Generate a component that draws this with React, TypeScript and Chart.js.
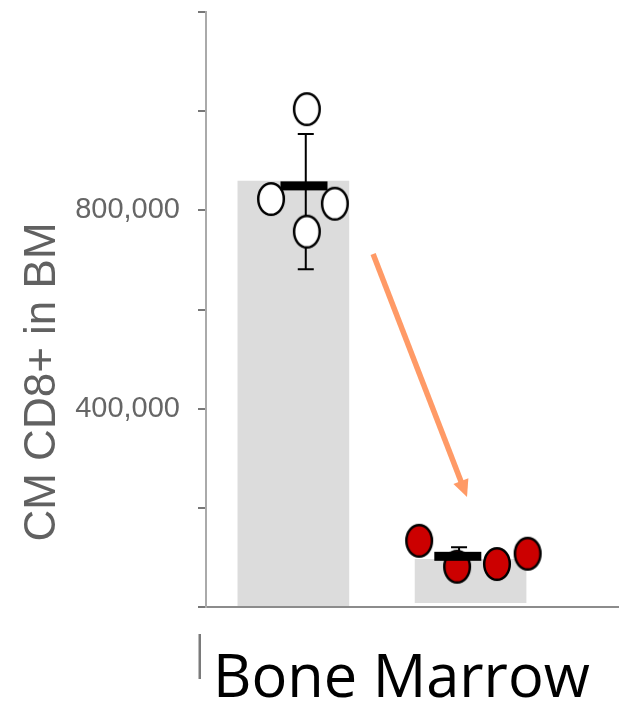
import React, { useEffect, useRef } from 'react';
import { Chart, registerables } from 'chart.js';

Chart.register(...registerables);

// ---- data ----
const categoryLabel = 'Bone Marrow';
const yAxisTitle = 'CM CD8+ in BM';
const groupPositions = [1, 2];
const barLow = [2500, 8500];
const barHigh = [859000, 96200];
const groupAValues = [1004000, 822800, 813400, 757000];
const groupAOffsets = [0.076, -0.126, 0.234, 0.076];
const groupBValues = [133500, 81300, 86700, 107500];
const groupBOffsets = [-0.29, -0.076, 0.149, 0.322];
const meanValues = [849300, 102200];
const meanOffsets = [0.06, -0.072];
const errTop = [954000, 120400];
const errBottom = [681000, 84000];
const errOffsets = [0.07, -0.065];
const yTickLabelled = [400000, 800000];
const arrowFrom = { x: 1.45, y: 711900 };
const arrowTo = { x: 1.98, y: 221800 };

function ellipseImage(fill: string): HTMLCanvasElement {
  const c = document.createElement('canvas');
  c.width = 30;
  c.height = 36;
  const ctx = c.getContext('2d')!;
  ctx.beginPath();
  ctx.ellipse(15, 18, 12.8, 15.8, 0, 0, Math.PI * 2);
  ctx.fillStyle = fill;
  ctx.fill();
  ctx.lineWidth = 2.5;
  ctx.strokeStyle = '#000';
  ctx.stroke();
  return c;
}

const overlayPlugin = {
  id: 'overlay',
  afterDatasetDraw(chart: any, args: any) {
    if (args.index !== 0) return;
    const { ctx, scales } = chart;
    const x = scales.x;
    const y = scales.y;
    ctx.save();
    ctx.strokeStyle = '#000';
    ctx.lineWidth = 2;
    groupPositions.forEach((g, i) => {
      const px = x.getPixelForValue(g + errOffsets[i]);
      const t = y.getPixelForValue(errTop[i]);
      const b = y.getPixelForValue(errBottom[i]);
      ctx.beginPath();
      ctx.moveTo(px, t);
      ctx.lineTo(px, b);
      ctx.moveTo(px - 8, t);
      ctx.lineTo(px + 8, t);
      ctx.moveTo(px - 8, b);
      ctx.lineTo(px + 8, b);
      ctx.stroke();
    });
    ctx.restore();
  },
  afterDatasetsDraw(chart: any) {
    const { ctx, scales } = chart;
    const x = scales.x;
    const y = scales.y;
    ctx.save();
    // mean lines
    ctx.fillStyle = '#000';
    groupPositions.forEach((g, i) => {
      const px = x.getPixelForValue(g + meanOffsets[i]);
      const py = y.getPixelForValue(meanValues[i]);
      ctx.fillRect(px - 23.5, py - 4.5, 47, 9);
    });
    // arrow
    const x0 = x.getPixelForValue(arrowFrom.x);
    const y0 = y.getPixelForValue(arrowFrom.y);
    const x1 = x.getPixelForValue(arrowTo.x);
    const y1 = y.getPixelForValue(arrowTo.y);
    const ang = Math.atan2(y1 - y0, x1 - x0);
    const headLen = 17;
    const headHalf = 8;
    const color = '#FF9A66';
    ctx.strokeStyle = color;
    ctx.fillStyle = color;
    ctx.lineWidth = 5.5;
    ctx.beginPath();
    ctx.moveTo(x0, y0);
    ctx.lineTo(x1 - Math.cos(ang) * (headLen - 2), y1 - Math.sin(ang) * (headLen - 2));
    ctx.stroke();
    const bx = x1 - Math.cos(ang) * headLen;
    const by = y1 - Math.sin(ang) * headLen;
    ctx.beginPath();
    ctx.moveTo(x1, y1);
    ctx.lineTo(bx + Math.sin(ang) * headHalf, by - Math.cos(ang) * headHalf);
    ctx.lineTo(bx - Math.sin(ang) * headHalf, by + Math.cos(ang) * headHalf);
    ctx.closePath();
    ctx.fill();
    ctx.restore();
  },
  afterDraw(chart: any) {
    const { ctx, chartArea } = chart;
    ctx.save();
    // y axis title
    ctx.fillStyle = '#616161';
    ctx.font = '44px "Liberation Sans", Arial, sans-serif';
    ctx.textAlign = 'center';
    ctx.textBaseline = 'alphabetic';
    ctx.translate(55, 382);
    ctx.rotate(-Math.PI / 2);
    ctx.fillText(yAxisTitle, 0, 0);
    ctx.restore();

    ctx.save();
    // small grey marker under axis
    ctx.fillStyle = '#7a7a7a';
    ctx.fillRect(chartArea.left - 7.5, chartArea.bottom + 27, 2.5, 45);
    // category label
    ctx.font = '100px "Open Sans", sans-serif';
    const w = ctx.measureText(categoryLabel).width;
    const size = (100 * 377) / w;
    ctx.font = `${size}px "Open Sans", sans-serif`;
    ctx.fillStyle = '#000';
    ctx.textAlign = 'left';
    ctx.textBaseline = 'alphabetic';
    ctx.fillText(categoryLabel, chartArea.left + 7, chartArea.bottom + 90);
    ctx.restore();
  },
};

export default function App() {
  const ref = useRef<HTMLCanvasElement>(null);
  useEffect(() => {
    if (!ref.current) return;
    const whiteImg = ellipseImage('#ffffff');
    const redImg = ellipseImage('#CC0000');
    const chart = new Chart(ref.current, {
      type: 'bar',
      data: {
        datasets: [
          {
            type: 'bar',
            label: 'bars',
            data: groupPositions.map((g, i) => ({ x: g, y: [barLow[i], barHigh[i]] })) as any,
            backgroundColor: '#DCDCDC',
            borderWidth: 0,
            barThickness: 111,
            order: 3,
          } as any,
          {
            type: 'scatter',
            label: 'A',
            data: groupAValues.map((v, i) => ({ x: groupPositions[0] + groupAOffsets[i], y: v })),
            pointStyle: whiteImg as any,
            order: 1,
          } as any,
          {
            type: 'scatter',
            label: 'B',
            data: groupBValues.map((v, i) => ({ x: groupPositions[1] + groupBOffsets[i], y: v })),
            pointStyle: redImg as any,
            order: 1,
          } as any,
        ],
      },
      options: {
        responsive: false,
        animation: false,
        layout: { padding: { top: 12, right: 11, left: 0, bottom: 0 } },
        plugins: { legend: { display: false }, tooltip: { enabled: false } },
        scales: {
          x: {
            type: 'linear',
            min: 0.507,
            max: 2.832,
            offset: false,
            ticks: { display: false },
            grid: { display: false },
            border: { color: '#8c8c8c', width: 2 },
            afterFit: (s: any) => {
              s.height = 102;
              s.paddingLeft = 0;
              s.paddingRight = 0;
            },
          },
          y: {
            min: 0,
            max: 1200000,
            ticks: {
              stepSize: 200000,
              padding: 18,
              color: '#666666',
              font: { family: '"Liberation Sans", Arial, sans-serif', size: 29 },
              callback: (v: any) => (yTickLabelled.includes(Number(v)) ? Number(v).toLocaleString('en-US') : ''),
            },
            grid: { drawOnChartArea: false, tickLength: 8, color: '#777777', lineWidth: 2 },
            border: { color: '#AAAAAA', width: 2 },
            afterFit: (s: any) => {
              s.width = 206;
              s.paddingTop = 0;
              s.paddingBottom = 0;
            },
          },
        },
      } as any,
      plugins: [overlayPlugin],
    });
    return () => chart.destroy();
  }, []);
  return (
    <div style={{ position: 'absolute', left: 0, top: 0, width: 629, height: 709 }}>
      <canvas ref={ref} width={629} height={709} />
    </div>
  );
}
